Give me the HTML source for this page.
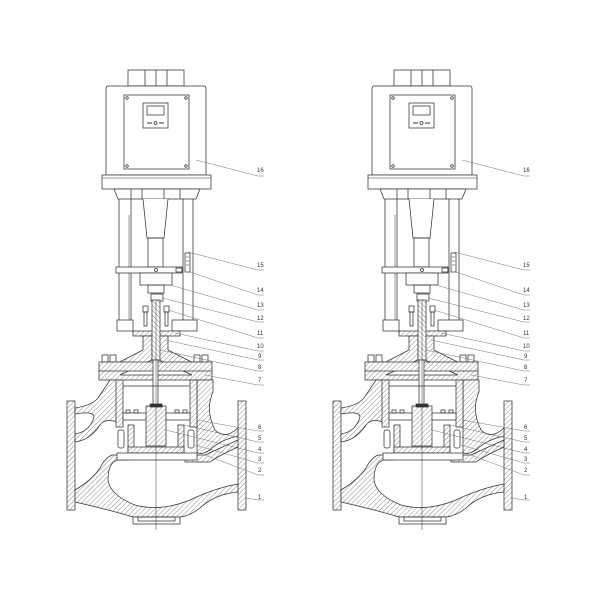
<!DOCTYPE html>
<html><head><meta charset="utf-8"><style>
html,body{margin:0;padding:0;background:#fff;}
svg{display:block}
text{font-family:"Liberation Sans",sans-serif;font-size:6px;fill:#333}
</style></head><body>
<svg width="600" height="600" viewBox="0 0 600 600" xmlns="http://www.w3.org/2000/svg">
<defs>
<pattern id="h" patternUnits="userSpaceOnUse" width="3.5" height="3.5" patternTransform="rotate(45)">
<rect width="3.5" height="3.5" fill="#fff"/><line x1="0" y1="0" x2="0" y2="3.5" stroke="#444" stroke-width="0.6"/>
</pattern>
<pattern id="h2" patternUnits="userSpaceOnUse" width="3.5" height="3.5" patternTransform="rotate(-45)">
<rect width="3.5" height="3.5" fill="#fff"/><line x1="0" y1="0" x2="0" y2="3.5" stroke="#444" stroke-width="0.6"/>
</pattern>
<g id="v" fill="none" stroke="#333" stroke-width="0.75">
<rect x="128" y="70" width="56" height="16" fill="#fff"/>
<line x1="145" y1="70" x2="145" y2="86"/><line x1="156" y1="70" x2="156" y2="86"/><line x1="167" y1="70" x2="167" y2="86"/>
<path d="M108 86 H204 Q206 86 206 89 V175 H106 V89 Q106 86 108 86Z" fill="#fff"/>
<rect x="102" y="175" width="109" height="14" fill="#fff"/>
<line x1="102" y1="178" x2="211" y2="178" stroke-width="0.5"/>
<rect x="124" y="95" width="65" height="74" fill="#fff"/>
<circle cx="127" cy="98" r="1.3"/><circle cx="186" cy="98" r="1.3"/><circle cx="127" cy="166" r="1.3"/><circle cx="186" cy="166" r="1.3"/>
<rect x="143" y="103" width="25" height="25"/>
<rect x="147" y="106" width="17" height="9"/>
<circle cx="155.5" cy="123" r="1.5"/><line x1="147" y1="123" x2="152" y2="123" stroke-width="1"/><line x1="159" y1="123" x2="164" y2="123" stroke-width="1"/>
<path d="M114 189 H200 L196 199 H118Z" fill="#fff"/>
<line x1="131" y1="189" x2="131" y2="199"/><line x1="142" y1="189" x2="142" y2="199"/><line x1="164" y1="189" x2="164" y2="199"/><line x1="180" y1="189" x2="180" y2="199"/>
<line x1="119" y1="199" x2="119" y2="320"/><line x1="131" y1="199" x2="131" y2="320"/>
<line x1="183" y1="199" x2="183" y2="320"/><line x1="193" y1="199" x2="193" y2="320"/>
<line x1="129" y1="215" x2="129" y2="320" stroke-width="0.5"/>
<path d="M143 199 L147 238 H164 L168 199" fill="#fff"/>
<rect x="148" y="238" width="15" height="29"/>
<rect x="116" y="267" width="66" height="6" fill="#fff"/>
<circle cx="156" cy="270" r="1.5"/><rect x="176" y="268" width="6" height="4"/>
<rect x="140" y="273" width="32" height="12" fill="#fff"/>
<rect x="148" y="285" width="16" height="8"/>
<rect x="151" y="294" width="12" height="7" fill="#fff"/>
<rect x="185" y="253" width="5" height="19"/>
<line x1="186" y1="257" x2="189" y2="257" stroke-width="0.5"/><line x1="186" y1="261" x2="189" y2="261" stroke-width="0.5"/><line x1="186" y1="265" x2="189" y2="265" stroke-width="0.5"/>
<rect x="117" y="320" width="16" height="11" fill="#fff"/>
<rect x="172" y="320" width="25" height="11" fill="#fff"/>
<rect x="143" y="306" width="5" height="6"/><rect x="164" y="306" width="5" height="6"/>
<rect x="144" y="312" width="3" height="14"/><rect x="165" y="312" width="3" height="14"/>
<rect x="133" y="331" width="47" height="5" fill="url(#h)"/>
<path d="M143 336 V350 L104 370 H99 V380 H212 V370 H207 L168 350 V336Z" fill="url(#h)"/>
<path d="M152 336 V360 L120 375 H192 L159 360 V336Z" fill="#fff"/>
<rect x="152" y="300" width="8" height="60" fill="url(#h2)"/>
<rect x="102" y="355" width="6" height="7"/><rect x="110" y="355" width="6" height="7"/>
<rect x="194" y="355" width="6" height="7"/><rect x="202" y="355" width="6" height="7"/>
<rect x="99" y="362" width="113" height="9" fill="url(#h)"/>
<rect x="153" y="360" width="5" height="48" fill="#fff"/>
<rect x="67" y="401" width="8" height="109" fill="url(#h)"/>
<rect x="238" y="401" width="8" height="109" fill="url(#h)"/>
<path d="M75 408 Q95 405 100 395 L110 380 H117 V422 Q105 418 100 425 Q90 440 75 442 V434 Q88 432 93 420 Q98 410 75 414Z" fill="url(#h)"/>
<path d="M197 380 H213 V392 Q205 410 215 430 Q225 440 238 428 V436 Q220 440 210 450 Q200 456 197 452Z" fill="url(#h)"/>
<path d="M75 490 Q92 480 100 468 Q105 458 112 455 H128 V460 H118 Q108 462 108 480 Q110 495 135 505 Q160 512 190 500 Q215 488 238 484 V492 Q215 494 200 508 Q190 516 180 517 H133 Q110 510 75 502Z" fill="url(#h)"/>
<path d="M185 455 H205 Q220 448 238 440 V447 Q220 455 210 462 H185Z" fill="url(#h)"/>
<rect x="133" y="517" width="47" height="7" fill="#fff"/>
<rect x="138" y="517" width="37" height="4"/>
<rect x="116" y="380" width="7" height="47" fill="url(#h)"/>
<rect x="190" y="380" width="7" height="47" fill="url(#h)"/>
<line x1="123" y1="386" x2="190" y2="386"/>
<rect x="123" y="413" width="67" height="7" fill="#fff"/>
<rect x="126" y="410" width="4" height="3"/><rect x="134" y="410" width="4" height="3"/><rect x="175" y="410" width="4" height="3"/><rect x="183" y="410" width="4" height="3"/>
<rect x="146" y="406" width="20" height="40" fill="url(#h)"/>
<rect x="150" y="404" width="12" height="3" fill="#333"/>
<rect x="128" y="425" width="6" height="27" fill="url(#h)"/>
<rect x="178" y="425" width="6" height="27" fill="url(#h)"/>
<rect x="128" y="447" width="56" height="6" fill="url(#h)"/>
<rect x="118" y="430" width="6" height="18" rx="2"/><rect x="188" y="430" width="6" height="18" rx="2"/>
<rect x="117" y="453" width="80" height="7" fill="#fff"/>
<line x1="156" y1="300" x2="156" y2="530" stroke-width="0.5"/>
<g stroke="#666" stroke-width="0.45">
<path d="M196 160 L258 176 H264"/>
<path d="M188 252 L258 270 H264"/>
<path d="M190 272 L258 295 H264"/>
<path d="M170 285 L258 310 H264"/>
<path d="M162 298 L258 322 H264"/>
<path d="M168 310 L258 338 H264"/>
<path d="M175 333 L258 351 H264"/>
<path d="M165 340 L258 360 H264"/>
<path d="M160 350 L258 371 H264"/>
<path d="M205 375 L258 385 H264"/>
<path d="M197 420 L258 431 H264"/>
<path d="M184 425 L258 442 H264"/>
<path d="M166 430 L258 453 H264"/>
<path d="M195 445 L258 463 H264"/>
<path d="M205 455 L258 475 H264"/>
<path d="M246 498 L258 500 H264"/>
</g>
</g>
</defs>
<use href="#v"/>
<use href="#v" transform="translate(266,0)"/>
<g>
<text x="257" y="172">16</text><text x="257" y="267">15</text><text x="257" y="292">14</text><text x="257" y="307">13</text><text x="257" y="320">12</text><text x="257" y="335">11</text><text x="257" y="348">10</text><text x="258" y="358">9</text><text x="258" y="369">8</text><text x="258" y="382">7</text><text x="258" y="429">6</text><text x="258" y="440">5</text><text x="258" y="451">4</text><text x="258" y="461">3</text><text x="258" y="472">2</text><text x="258" y="499">1</text>
</g>
<g transform="translate(266,0)">
<text x="257" y="172">16</text><text x="257" y="267">15</text><text x="257" y="292">14</text><text x="257" y="307">13</text><text x="257" y="320">12</text><text x="257" y="335">11</text><text x="257" y="348">10</text><text x="258" y="358">9</text><text x="258" y="369">8</text><text x="258" y="382">7</text><text x="258" y="429">6</text><text x="258" y="440">5</text><text x="258" y="451">4</text><text x="258" y="461">3</text><text x="258" y="472">2</text><text x="258" y="499">1</text>
</g>
</svg>
</body></html>
